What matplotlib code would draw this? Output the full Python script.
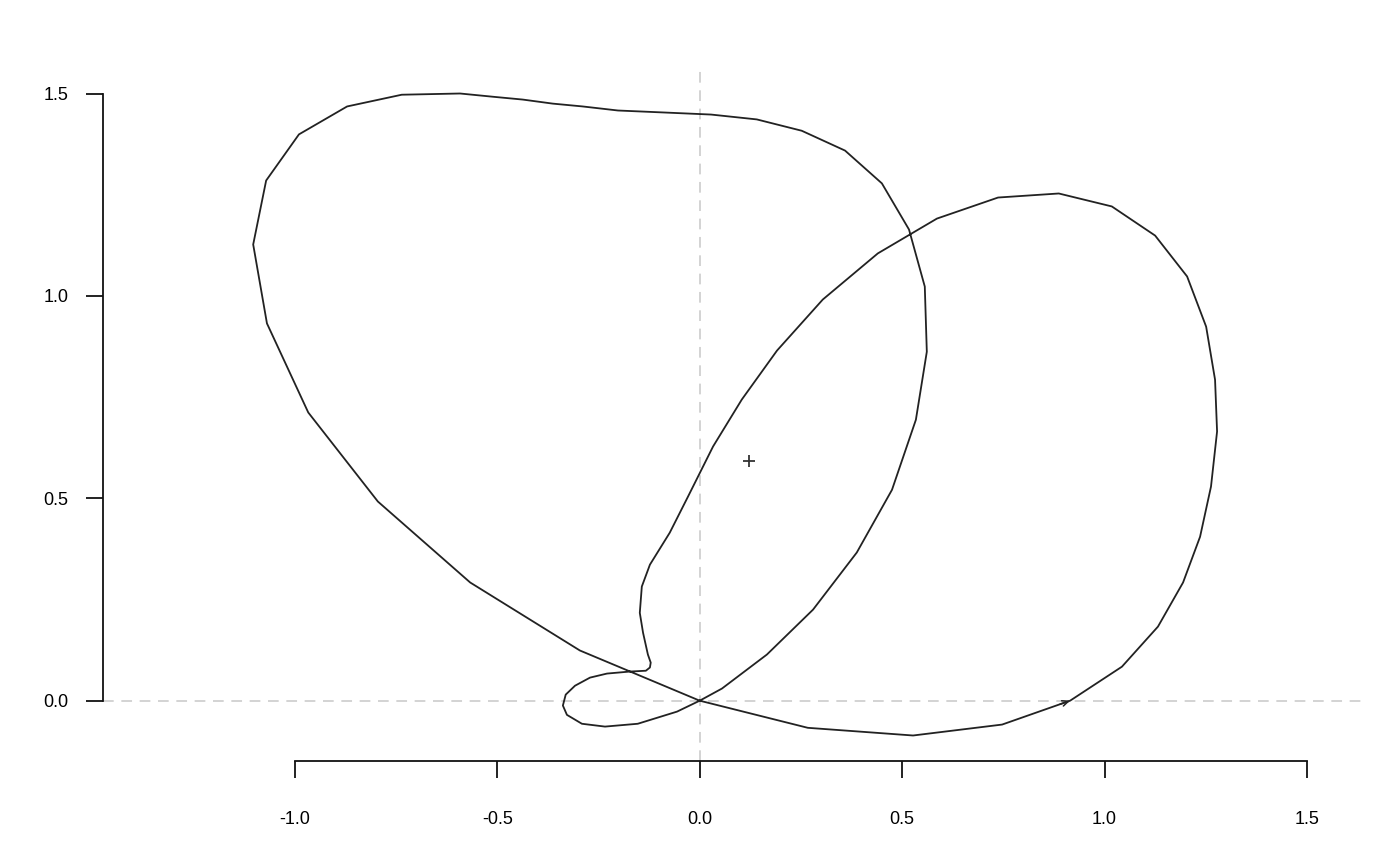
import matplotlib
matplotlib.use("Agg")
import matplotlib.pyplot as plt

plt.rcParams['font.family'] = ['Liberation Sans', 'DejaVu Sans']

# Trajectory (closed curve)
curve_x = [0.000, 0.267, 0.527, 0.747, 0.915, 1.043, 1.132, 1.194, 1.236, 1.263,
           1.278, 1.273, 1.251, 1.204, 1.125, 1.018, 0.887, 0.737, 0.586, 0.440,
           0.304, 0.191, 0.104, 0.033, -0.029, -0.074, -0.123, -0.143, -0.148, -0.140,
           -0.128, -0.121, -0.123, -0.133, -0.172, -0.229, -0.271, -0.308, -0.331, -0.338,
           -0.328, -0.291, -0.234, -0.153, -0.056, 0.000, 0.055, 0.166, 0.280, 0.388,
           0.475, 0.534, 0.561, 0.556, 0.517, 0.450, 0.359, 0.252, 0.141, 0.028,
           -0.086, -0.202, -0.289, -0.363, -0.437, -0.511, -0.592, -0.736, -0.871, -0.990,
           -1.071, -1.103, -1.069, -0.967, -0.795, -0.567, -0.296, 0.000]
curve_y = [0.000, -0.067, -0.086, -0.059, 0.000, 0.084, 0.183, 0.292, 0.405, 0.529,
           0.665, 0.793, 0.924, 1.048, 1.149, 1.221, 1.253, 1.243, 1.191, 1.105,
           0.991, 0.865, 0.744, 0.628, 0.504, 0.415, 0.336, 0.282, 0.217, 0.168,
           0.114, 0.094, 0.082, 0.074, 0.072, 0.067, 0.057, 0.037, 0.015, -0.012,
           -0.035, -0.057, -0.064, -0.057, -0.027, 0.000, 0.030, 0.114, 0.225, 0.366,
           0.521, 0.694, 0.862, 1.023, 1.164, 1.278, 1.359, 1.408, 1.436, 1.448,
           1.453, 1.458, 1.468, 1.475, 1.485, 1.492, 1.500, 1.497, 1.468, 1.399,
           1.285, 1.127, 0.932, 0.712, 0.492, 0.292, 0.124, 0.000]

# Direction arrow (segment ending at arrow tip)
arrow_from = (0.747, -0.059)
arrow_to = (0.915, 0.000)

# Centroid marker
center_x = 0.122
center_y = 0.591

x_ticks = [-1.0, -0.5, 0.0, 0.5, 1.0, 1.5]
y_ticks = [0.0, 0.5, 1.0, 1.5]

fig = plt.figure(figsize=(14, 8.65), dpi=100)
ax = fig.add_axes([103/1400, (865-761)/865, 1259/1400, 693/865])
ax.set_xlim(-1.474, 1.636)
ax.set_ylim(-0.149, 1.563)

dash = (0, (7, 5))
ax.axhline(0, color='#c8c8c8', lw=1.1, linestyle=dash, zorder=1)
ax.axvline(0, color='#c8c8c8', lw=1.1, linestyle=dash, zorder=1)

ax.plot(curve_x, curve_y, color='#222222', lw=1.3, solid_joinstyle='round', zorder=3)

fx = arrow_to[0] - arrow_from[0]
fy = arrow_to[1] - arrow_from[1]
ax.annotate('', xy=arrow_to, xytext=(arrow_to[0] - 0.15 * fx, arrow_to[1] - 0.15 * fy),
            arrowprops=dict(arrowstyle='->,head_length=0.45,head_width=0.2',
                            color='#222222', lw=1.1, shrinkA=0, shrinkB=0), zorder=4)

ax.plot([center_x], [center_y], marker='+', color='#333333', markersize=9,
        markeredgewidth=1.3, linestyle='none', zorder=4)

for s in ['top', 'right']:
    ax.spines[s].set_visible(False)
ax.spines['left'].set_bounds(0, 1.5)
ax.spines['bottom'].set_bounds(-1.0, 1.5)
for s in ['left', 'bottom']:
    ax.spines[s].set_linewidth(1.3)
    ax.spines[s].set_color('#111111')

ax.set_xticks(x_ticks)
ax.set_xticklabels([f"{v:.1f}" for v in x_ticks])
ax.set_yticks(y_ticks)
ax.set_yticklabels([f"{v:.1f}" for v in y_ticks])
ax.tick_params(axis='x', length=12.5, width=1.3, pad=23.5, labelsize=13, color='#111111')
ax.tick_params(axis='y', length=12.5, width=1.3, pad=12.5, labelsize=13, color='#111111')

fig.savefig('out.png', dpi=100)
